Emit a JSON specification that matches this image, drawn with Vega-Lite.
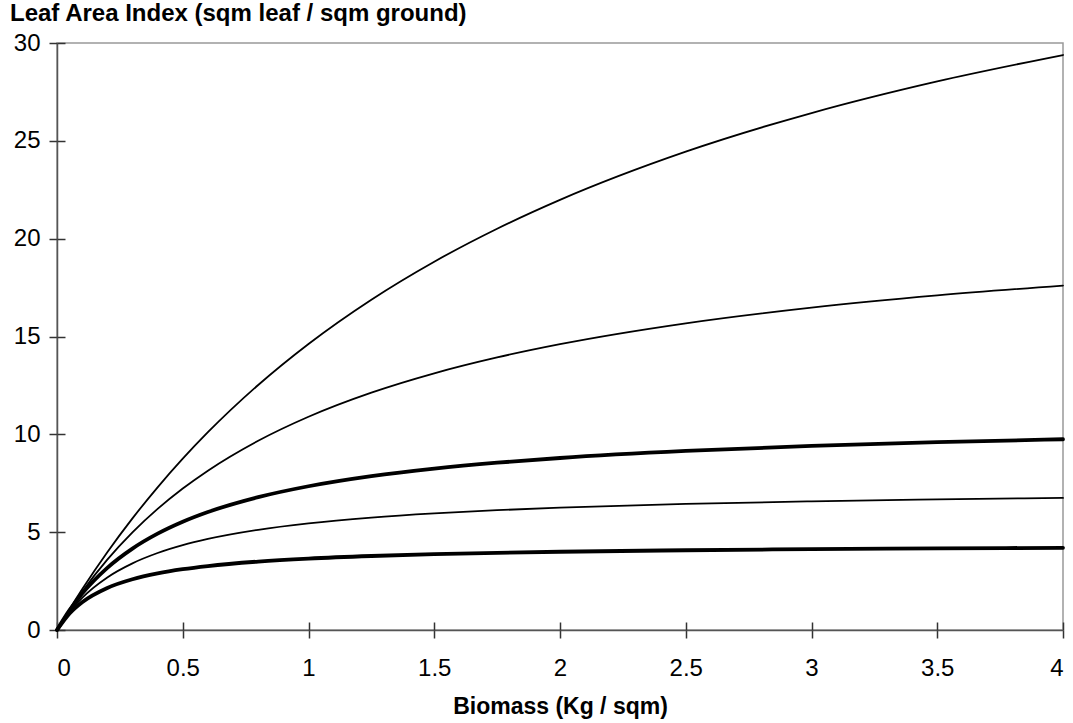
{
  "$schema": "https://vega.github.io/schema/vega-lite/v6.json",
  "width": 1006,
  "height": 587,
  "autosize": "none",
  "padding": {"left": 57, "top": 43, "right": 10, "bottom": 93},
  "background": "white",
  "config": {
    "font": "Liberation Sans",
    "view": {"stroke": "#999999", "strokeWidth": 1.5}
  },
  "title": {
    "text": "Leaf Area Index (sqm leaf / sqm ground)",
    "anchor": "start",
    "frame": "group",
    "dx": -47,
    "dy": 22,
    "offset": 8,
    "baseline": "alphabetic",
    "font": "Liberation Sans",
    "fontSize": 24,
    "fontWeight": "bold",
    "color": "black"
  },
  "data": {
    "values": [
      {"series": "A", "biomass": 0, "lai": 0},
      {"series": "A", "biomass": 0.05, "lai": 1.065},
      {"series": "A", "biomass": 0.1, "lai": 2.08},
      {"series": "A", "biomass": 0.2, "lai": 3.973},
      {"series": "A", "biomass": 0.3, "lai": 5.704},
      {"series": "A", "biomass": 0.4, "lai": 7.292},
      {"series": "A", "biomass": 0.5, "lai": 8.755},
      {"series": "A", "biomass": 0.6, "lai": 10.107},
      {"series": "A", "biomass": 0.8, "lai": 12.523},
      {"series": "A", "biomass": 1.0, "lai": 14.62},
      {"series": "A", "biomass": 1.25, "lai": 16.883},
      {"series": "A", "biomass": 1.5, "lai": 18.824},
      {"series": "A", "biomass": 1.75, "lai": 20.509},
      {"series": "A", "biomass": 2.0, "lai": 21.985},
      {"series": "A", "biomass": 2.5, "lai": 24.448},
      {"series": "A", "biomass": 3.0, "lai": 26.421},
      {"series": "A", "biomass": 3.5, "lai": 28.038},
      {"series": "A", "biomass": 4.0, "lai": 29.386},
      {"series": "B", "biomass": 0, "lai": 0},
      {"series": "B", "biomass": 0.05, "lai": 1.024},
      {"series": "B", "biomass": 0.1, "lai": 1.958},
      {"series": "B", "biomass": 0.2, "lai": 3.597},
      {"series": "B", "biomass": 0.3, "lai": 4.99},
      {"series": "B", "biomass": 0.4, "lai": 6.189},
      {"series": "B", "biomass": 0.5, "lai": 7.231},
      {"series": "B", "biomass": 0.6, "lai": 8.145},
      {"series": "B", "biomass": 0.8, "lai": 9.673},
      {"series": "B", "biomass": 1.0, "lai": 10.901},
      {"series": "B", "biomass": 1.25, "lai": 12.133},
      {"series": "B", "biomass": 1.5, "lai": 13.121},
      {"series": "B", "biomass": 1.75, "lai": 13.932},
      {"series": "B", "biomass": 2.0, "lai": 14.609},
      {"series": "B", "biomass": 2.5, "lai": 15.675},
      {"series": "B", "biomass": 3.0, "lai": 16.477},
      {"series": "B", "biomass": 3.5, "lai": 17.102},
      {"series": "B", "biomass": 4.0, "lai": 17.603},
      {"series": "C", "biomass": 0, "lai": 0},
      {"series": "C", "biomass": 0.05, "lai": 1.015},
      {"series": "C", "biomass": 0.1, "lai": 1.857},
      {"series": "C", "biomass": 0.2, "lai": 3.176},
      {"series": "C", "biomass": 0.3, "lai": 4.16},
      {"series": "C", "biomass": 0.4, "lai": 4.922},
      {"series": "C", "biomass": 0.5, "lai": 5.531},
      {"series": "C", "biomass": 0.6, "lai": 6.028},
      {"series": "C", "biomass": 0.8, "lai": 6.79},
      {"series": "C", "biomass": 1.0, "lai": 7.347},
      {"series": "C", "biomass": 1.25, "lai": 7.864},
      {"series": "C", "biomass": 1.5, "lai": 8.25},
      {"series": "C", "biomass": 1.75, "lai": 8.551},
      {"series": "C", "biomass": 2.0, "lai": 8.791},
      {"series": "C", "biomass": 2.5, "lai": 9.15},
      {"series": "C", "biomass": 3.0, "lai": 9.407},
      {"series": "C", "biomass": 3.5, "lai": 9.599},
      {"series": "C", "biomass": 4.0, "lai": 9.748},
      {"series": "D", "biomass": 0, "lai": 0},
      {"series": "D", "biomass": 0.05, "lai": 0.927},
      {"series": "D", "biomass": 0.1, "lai": 1.646},
      {"series": "D", "biomass": 0.2, "lai": 2.689},
      {"series": "D", "biomass": 0.3, "lai": 3.408},
      {"series": "D", "biomass": 0.4, "lai": 3.935},
      {"series": "D", "biomass": 0.5, "lai": 4.337},
      {"series": "D", "biomass": 0.6, "lai": 4.653},
      {"series": "D", "biomass": 0.8, "lai": 5.121},
      {"series": "D", "biomass": 1.0, "lai": 5.45},
      {"series": "D", "biomass": 1.25, "lai": 5.745},
      {"series": "D", "biomass": 1.5, "lai": 5.96},
      {"series": "D", "biomass": 1.75, "lai": 6.124},
      {"series": "D", "biomass": 2.0, "lai": 6.253},
      {"series": "D", "biomass": 2.5, "lai": 6.443},
      {"series": "D", "biomass": 3.0, "lai": 6.576},
      {"series": "D", "biomass": 3.5, "lai": 6.674},
      {"series": "D", "biomass": 4.0, "lai": 6.75},
      {"series": "E", "biomass": 0, "lai": 0},
      {"series": "E", "biomass": 0.05, "lai": 0.845},
      {"series": "E", "biomass": 0.1, "lai": 1.419},
      {"series": "E", "biomass": 0.2, "lai": 2.149},
      {"series": "E", "biomass": 0.3, "lai": 2.593},
      {"series": "E", "biomass": 0.4, "lai": 2.892},
      {"series": "E", "biomass": 0.5, "lai": 3.107},
      {"series": "E", "biomass": 0.6, "lai": 3.269},
      {"series": "E", "biomass": 0.8, "lai": 3.497},
      {"series": "E", "biomass": 1.0, "lai": 3.65},
      {"series": "E", "biomass": 1.25, "lai": 3.782},
      {"series": "E", "biomass": 1.5, "lai": 3.875},
      {"series": "E", "biomass": 1.75, "lai": 3.945},
      {"series": "E", "biomass": 2.0, "lai": 3.999},
      {"series": "E", "biomass": 2.5, "lai": 4.077},
      {"series": "E", "biomass": 3.0, "lai": 4.131},
      {"series": "E", "biomass": 3.5, "lai": 4.17},
      {"series": "E", "biomass": 4.0, "lai": 4.2}
    ]
  },
  "layer": [
    {
      "transform": [{"filter": {"field": "series", "oneOf": ["A", "B", "D"]}}],
      "mark": {"type": "line", "color": "black", "interpolate": "monotone", "strokeWidth": 1.8, "strokeCap": "round"},
      "encoding": {
        "x": {
          "field": "biomass", "type": "quantitative",
          "scale": {"domain": [0, 4], "nice": false, "zero": true},
          "axis": {
            "orient": "bottom",
            "title": "Biomass (Kg / sqm)",
            "values": [0, 0.5, 1, 1.5, 2, 2.5, 3, 3.5, 4],
            "format": "~g",
            "grid": false,
            "domainColor": "#555555", "domainWidth": 1.5,
            "tickColor": "#333333", "tickWidth": 1.5, "tickSize": 8,
            "labelFont": "Liberation Sans", "labelFontSize": 24, "labelColor": "black",
            "labelPadding": 18,
            "titleFont": "Liberation Sans", "titleFontSize": 23, "titleFontWeight": "bold", "titleColor": "black",
            "titlePadding": 15
          }
        },
        "y": {
          "field": "lai", "type": "quantitative",
          "scale": {"domain": [0, 30], "nice": false},
          "axis": {
            "orient": "left",
            "title": null,
            "values": [0, 5, 10, 15, 20, 25, 30],
            "grid": false,
            "domainColor": "#555555", "domainWidth": 1.5,
            "tickColor": "#333333", "tickWidth": 1.5, "tickSize": 8,
            "labelFont": "Liberation Sans", "labelFontSize": 24, "labelColor": "black",
            "labelPadding": 9
          }
        },
        "detail": {"field": "series", "type": "nominal"}
      }
    },
    {
      "transform": [{"filter": {"field": "series", "oneOf": ["C", "E"]}}],
      "mark": {"type": "line", "color": "black", "interpolate": "monotone", "strokeWidth": 3.8, "strokeCap": "round"},
      "encoding": {
        "x": {
          "field": "biomass", "type": "quantitative",
          "axis": {
            "orient": "top", "offset": -587,
            "title": null, "labels": false, "domain": false, "grid": false,
            "values": [0, 0.5, 1, 1.5, 2, 2.5, 3, 3.5, 4],
            "tickColor": "#333333", "tickWidth": 1.5, "tickSize": 8
          }
        },
        "y": {
          "field": "lai", "type": "quantitative",
          "axis": {
            "orient": "right", "offset": -1006,
            "title": null, "labels": false, "domain": false, "grid": false,
            "values": [0, 5, 10, 15, 20, 25, 30],
            "tickColor": "#333333", "tickWidth": 1.5, "tickSize": 8
          }
        },
        "detail": {"field": "series", "type": "nominal"}
      }
    }
  ],
  "resolve": {"axis": {"x": "independent", "y": "independent"}}
}
